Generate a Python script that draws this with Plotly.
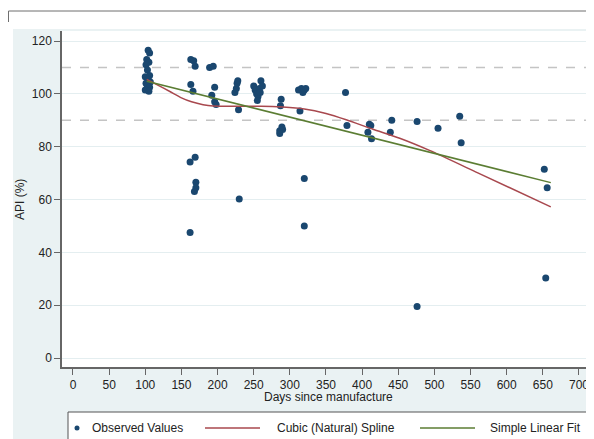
import plotly.graph_objects as go

# Observed values (days since manufacture, API %)
obs_days = [104, 106, 102, 105, 101, 103, 106, 100, 104, 107, 101, 103, 106, 100, 105,
            163, 167, 169, 163, 166, 162, 169, 170, 170, 168, 162,
            189, 194, 196, 192, 196, 198,
            224, 226, 227, 228, 229, 230,
            250, 252, 254, 256, 258, 255, 260, 262, 259,
            288, 287, 289, 286, 290, 286,
            312, 316, 318, 320, 322, 314, 320, 320,
            377, 379, 410, 408, 413, 412, 441, 439, 476, 476, 505, 535, 537,
            652, 656, 654]
obs_api = [116.5, 115.5, 113, 112, 111, 109, 107, 106.5, 105.5, 104.5, 104, 103, 102.5, 101.5, 101,
           113, 112.5, 110.5, 103.5, 101, 74.2, 76, 66.5, 64.5, 63, 47.5,
           110, 110.5, 102.5, 99.5, 97, 96,
           100.5, 102, 104, 105, 94, 60.2,
           103, 101.5, 100, 99, 102, 97.5, 105, 103, 100.5,
           98, 95.5, 87.5, 86, 86.5, 85,
           101.5, 102, 100.5, 101.5, 102, 93.5, 68, 50,
           100.5, 88, 88.5, 85.5, 83, 88, 90, 85.5, 19.5, 89.5, 87, 91.5, 81.5,
           71.5, 64.5, 30.3]

# Cubic (natural) spline curve
spline_days = [102, 118, 134, 150, 164, 180, 194, 226, 260, 290, 320, 350, 378, 415, 452, 494, 560, 661]
spline_api = [105.5, 103.2, 100.9, 98.5, 97.0, 95.9, 95.4, 95.3, 95.3, 95.0, 94.3, 92.6, 90.2, 86.6, 83.2, 78.5, 70.1, 57.2]

# Simple linear fit
linear_days = [102, 661]
linear_api = [104.8, 66.4]

# Reference lines and ticks
ref_lines = [90, 110]
x_ticks = list(range(0, 701, 50))
y_ticks = list(range(0, 121, 20))

NAVY = "#1a476f"
RED = "#a8484e"
GREEN = "#5b7d33"
BLUE_BG = "#eaf2f3"
FONT = "Liberation Sans, Arial, sans-serif"

fig = go.Figure()
fig.add_trace(go.Scatter(x=obs_days, y=obs_api, mode="markers",
                         marker=dict(color=NAVY, size=7, line=dict(width=0)),
                         name="Observed Values", showlegend=False, cliponaxis=False))
fig.add_trace(go.Scatter(x=spline_days, y=spline_api, mode="lines",
                         line=dict(color=RED, width=1.5, shape="spline", smoothing=0.6),
                         name="Cubic (Natural) Spline", showlegend=False))
fig.add_trace(go.Scatter(x=linear_days, y=linear_api, mode="lines",
                         line=dict(color=GREEN, width=1.5),
                         name="Simple Linear Fit", showlegend=False))

# plot area in page pixels (reference): x 62..592, y 31..367 ; page is offset by 8px body margin
PL, PT, PW, PH = 62, 31, 530, 336
def px(x):
    return (x - PL) / PW
def py(y):
    return (PT + PH - y) / PH

shapes = []
# white strips outside the blue region (top and left)
shapes.append(dict(type="rect", xref="paper", yref="paper", x0=-0.3, x1=1.2, y0=py(29), y1=1.3,
                   fillcolor="white", line=dict(width=0), layer="above"))
shapes.append(dict(type="rect", xref="paper", yref="paper", x0=-0.3, x1=px(13), y0=-0.4, y1=1.3,
                   fillcolor="white", line=dict(width=0), layer="above"))
# frame line at top
shapes.append(dict(type="line", xref="paper", yref="paper", x0=px(8.5), x1=1.05, y0=py(11), y1=py(11),
                   line=dict(color="#6f6f6f", width=1), layer="above"))
shapes.append(dict(type="line", xref="paper", yref="paper", x0=px(8.5), x1=px(8.5), y0=py(11), y1=py(22),
                   line=dict(color="#6f6f6f", width=1), layer="above"))
# faint right border of plot area
shapes.append(dict(type="line", xref="paper", yref="paper", x0=1, x1=1, y0=0, y1=1,
                   line=dict(color="#e4eef0", width=1), layer="above"))
# reference dashed lines
for v in ref_lines:
    shapes.append(dict(type="line", xref="paper", yref="y", x0=0, x1=1, y0=v, y1=v,
                       line=dict(color="#c4c4c4", width=1.6, dash="dash"), layer="below"))
# legend box
shapes.append(dict(type="rect", xref="paper", yref="paper", x0=px(68), x1=px(588), y0=py(460), y1=py(412),
                   fillcolor="white", line=dict(color="#555555", width=1), layer="above"))
ly = py(428)
shapes.append(dict(type="circle", xref="paper", yref="paper",
                   x0=px(74.5), x1=px(79.5), y0=py(430.5), y1=py(425.5),
                   fillcolor=NAVY, line=dict(width=0), layer="above"))
shapes.append(dict(type="line", xref="paper", yref="paper", x0=px(205), x1=px(260), y0=ly, y1=ly,
                   line=dict(color=RED, width=1.5), layer="above"))
shapes.append(dict(type="line", xref="paper", yref="paper", x0=px(420), x1=px(475), y0=ly, y1=ly,
                   line=dict(color=GREEN, width=1.5), layer="above"))

annotations = [
    dict(text="Observed Values", xref="paper", yref="paper", x=px(90), y=ly, xanchor="left",
         yanchor="middle", showarrow=False, font=dict(size=12, color="#222", family=FONT)),
    dict(text="Cubic (Natural) Spline", xref="paper", yref="paper", x=px(275), y=ly, xanchor="left",
         yanchor="middle", showarrow=False, font=dict(size=12, color="#222", family=FONT)),
    dict(text="Simple Linear Fit", xref="paper", yref="paper", x=px(488), y=ly, xanchor="left",
         yanchor="middle", showarrow=False, font=dict(size=12, color="#222", family=FONT)),
    dict(text="Days since manufacture", xref="paper", yref="paper", x=px(328), y=py(397),
         xanchor="center", yanchor="middle", showarrow=False,
         font=dict(size=12, color="#222", family=FONT)),
    dict(text="API (%)", xref="paper", yref="paper", x=px(20), y=py(200), textangle=-90,
         xanchor="center", yanchor="middle", showarrow=False,
         font=dict(size=12, color="#222", family=FONT)),
]

OFF = 8
fig.update_layout(
    width=594, height=439,
    margin=dict(l=PL - OFF, r=594 - (PL + PW - OFF), t=PT - OFF, b=439 - (PT + PH - OFF), autoexpand=False),
    paper_bgcolor=BLUE_BG, plot_bgcolor="white",
    font=dict(family=FONT, size=12, color="#222"),
    showlegend=False,
    shapes=shapes, annotations=annotations,
    xaxis=dict(range=[-15.2, 718], tickmode="array", tickvals=x_ticks, showgrid=False, zeroline=False,
               automargin=False,
               showline=True, linecolor="#666", linewidth=1.5, ticks="outside", ticklen=6,
               tickcolor="#666", tickfont=dict(size=12, color="#222")),
    yaxis=dict(range=[-3.4, 123.8], tickmode="array", tickvals=y_ticks, showgrid=True,
               automargin=False,
               gridcolor="#e4eef0", gridwidth=1, zeroline=False,
               showline=True, linecolor="#666", linewidth=1.5, ticks="outside", ticklen=6,
               tickcolor="#666", tickfont=dict(size=12, color="#222")),
)

fig.write_html("out.html")
